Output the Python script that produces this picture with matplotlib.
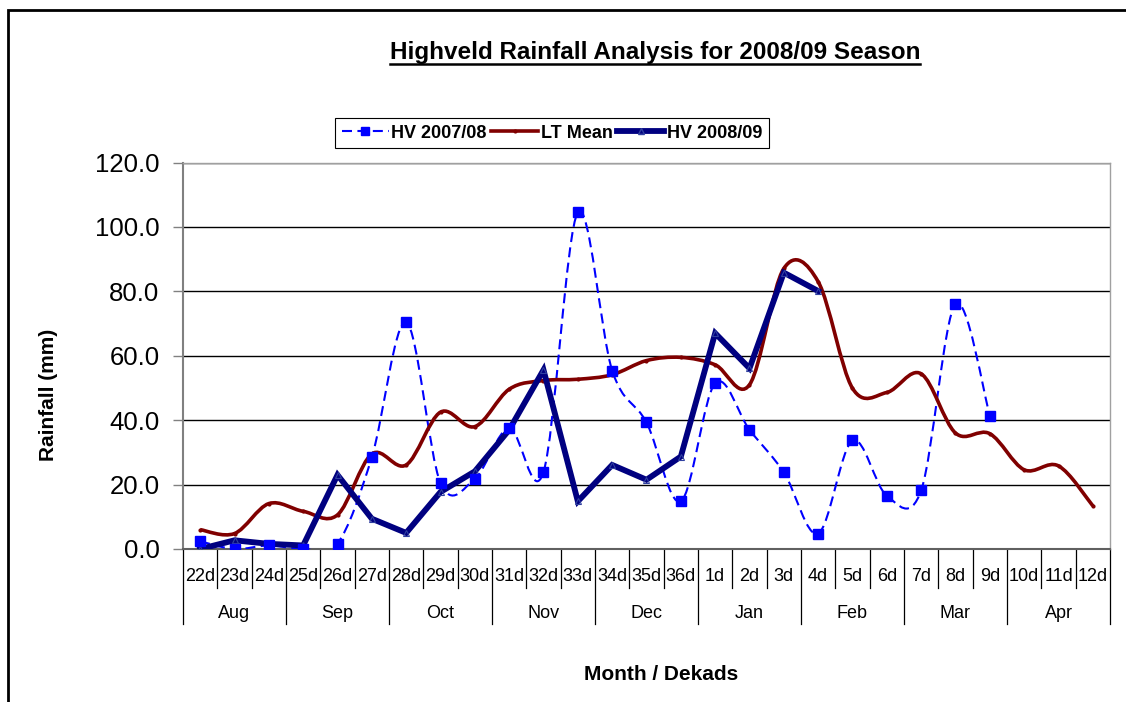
import numpy as np
import matplotlib
matplotlib.use('Agg')
import matplotlib.pyplot as plt
from matplotlib.path import Path
from matplotlib.patches import PathPatch, Rectangle
from matplotlib.lines import Line2D
import matplotlib.transforms as mtransforms

plt.rcParams['font.family'] = ['Liberation Sans', 'DejaVu Sans']

# dekads along the season and their months
dekads = ['22d', '23d', '24d', '25d', '26d', '27d', '28d', '29d', '30d',
          '31d', '32d', '33d', '34d', '35d', '36d', '1d', '2d', '3d',
          '4d', '5d', '6d', '7d', '8d', '9d', '10d', '11d', '12d']
months = ['Aug', 'Sep', 'Oct', 'Nov', 'Dec', 'Jan', 'Feb', 'Mar', 'Apr']

# rainfall (mm)
hv_2007 = [2.4, 0.0, 1.1, 0.0, 1.7, 28.5, 70.4, 20.5, 21.8, 37.5, 23.9, 104.5,
           55.4, 39.3, 14.8, 51.5, 37.0, 23.8, 4.8, 33.7, 16.5, 18.2, 76.1, 41.4]
lt_mean = [6.0, 4.8, 14.1, 11.7, 10.6, 29.5, 26.1, 42.5, 38.0, 49.6, 52.3, 52.7,
           54.1, 58.5, 59.5, 57.2, 51.0, 87.1, 83.0, 49.9, 48.6, 54.4, 36.0, 35.8,
           24.6, 25.8, 13.4]
hv_2008 = [0.0, 2.7, 1.6, 1.1, 23.0, 9.4, 5.0, 17.7, 24.1, 37.0, 55.6, 14.8,
           26.1, 21.5, 28.7, 67.0, 56.1, 85.8, 80.1]

C_BLUE = '#0000FF'
C_RED = '#800000'
C_NAVY = '#000080'


def smooth_path(xs, ys):
    # bezier through the points, like excel's "smoothed line"
    p = np.column_stack([xs, ys]).astype(float)
    n = len(p)
    verts = [p[0]]
    codes = [Path.MOVETO]
    for i in range(n - 1):
        p0 = p[i - 1] if i > 0 else p[i]
        p3 = p[i + 2] if i + 2 < n else p[i + 1]
        c1 = p[i] + (p[i + 1] - p0) / 6.0
        c2 = p[i + 1] - (p3 - p[i]) / 6.0
        verts += [c1, c2, p[i + 1]]
        codes += [Path.CURVE4] * 3
    return Path(verts, codes)


fig = plt.figure(figsize=(11.26, 7.02), dpi=100)
ax = fig.add_axes([183 / 1126, 153 / 702, 927 / 1126, 386.5 / 702])

x = np.arange(len(dekads))

# HV 2007/08 - dashed smoothed
blue_ls = (0, (4.8, 2.6))
ax.add_patch(PathPatch(smooth_path(x[:len(hv_2007)], hv_2007), fill=False,
                       edgecolor=C_BLUE, lw=1.5, linestyle=blue_ls, zorder=3))
ax.plot(x[:len(hv_2007)], hv_2007, linestyle='none', marker='s', ms=7.5,
        color=C_BLUE, zorder=6)

# long term mean - smoothed
ax.add_patch(PathPatch(smooth_path(x, lt_mean), fill=False,
                       edgecolor=C_RED, lw=2.6, zorder=4))
ax.plot(x, lt_mean, linestyle='none', marker='o', ms=2, color=C_RED, zorder=4)

# HV 2008/09
ax.plot(x[:len(hv_2008)], hv_2008, color=C_NAVY, lw=4.2, marker='^', ms=5,
        mfc='none', mec='#3040a0', mew=0.8, zorder=5, solid_joinstyle='miter')

ax.set_xlim(-0.5, len(dekads) - 0.5)
ax.set_ylim(0, 120)
ax.set_yticks(np.arange(0, 121, 20))
ax.set_yticklabels(['%.1f' % v for v in np.arange(0, 121, 20)], fontsize=18.5)
ax.yaxis.grid(True, color='#000000', lw=1)
ax.set_axisbelow(True)
ax.tick_params(axis='y', direction='out', length=7, width=1, color='#808080', pad=10)
ax.set_xticks([])

ax.spines['left'].set_color('#808080')
ax.spines['left'].set_linewidth(1.5)
ax.spines['bottom'].set_color('#606060')
ax.spines['bottom'].set_linewidth(1.5)
for s in ['top', 'right']:
    ax.spines[s].set_color('#a0a0a0')
    ax.spines[s].set_linewidth(1)

# two-level category axis
trans = mtransforms.blended_transform_factory(ax.transData, ax.transAxes)
for i, d in enumerate(dekads):
    ax.text(i, -0.072, d, transform=trans, ha='center', va='center', fontsize=13)
for b in np.arange(-0.5, len(dekads), 1.0):
    bottom = -0.194 if int(b + 0.5) % 3 == 0 else -0.101
    ax.plot([b, b], [0, bottom], transform=trans, color='#000000', lw=0.9,
            clip_on=False, zorder=2)
for j, m in enumerate(months):
    ax.text(3 * j + 1, -0.166, m, transform=trans, ha='center', va='center', fontsize=13)

fig.text(48 / 1126, 1 - 395 / 702, 'Rainfall (mm)', rotation=90, ha='center',
         va='center', fontsize=15, fontweight='bold')
fig.text(661 / 1126, 1 - 675 / 702, 'Month / Dekads', ha='center', va='center',
         fontsize=15, fontweight='bold')

title = fig.text(655 / 1126, 1 - 53 / 702, 'Highveld Rainfall Analysis for 2008/09 Season',
                 ha='center', va='center', fontsize=17.5, fontweight='bold')

handles = [
    Line2D([], [], color=C_BLUE, lw=1.5, linestyle=blue_ls, marker='s', ms=6),
    Line2D([], [], color=C_RED, lw=2.6, marker='o', ms=2),
    Line2D([], [], color=C_NAVY, lw=4.2, marker='^', ms=5, mfc='none', mec='#3040a0'),
]
leg = fig.legend(handles, ['HV 2007/08', 'LT Mean', 'HV 2008/09'], ncol=3,
                 loc='center', bbox_to_anchor=(552 / 1126, 1 - 133 / 702),
                 bbox_transform=fig.transFigure, fancybox=False, framealpha=1,
                 edgecolor='#000000', prop={'weight': 'bold', 'size': 13},
                 handlelength=2.6, handletextpad=0.15, columnspacing=0.25,
                 borderpad=0.35, borderaxespad=0)
leg.get_frame().set_linewidth(0.8)

# outer chart frame (top and left edges visible)
fig.patches.append(Rectangle((8 / 1126, -0.2), 1.2, 1.2 - 10 / 702,
                             transform=fig.transFigure, fill=False,
                             edgecolor='#000000', lw=2, zorder=0))

# underline the title
fig.canvas.draw()
bb = title.get_window_extent().transformed(fig.transFigure.inverted())
fig.add_artist(Line2D([bb.x0, bb.x1], [1 - 64 / 702, 1 - 64 / 702],
                      transform=fig.transFigure, color='#000000', lw=1.8))

fig.savefig('out.png', dpi=100)
